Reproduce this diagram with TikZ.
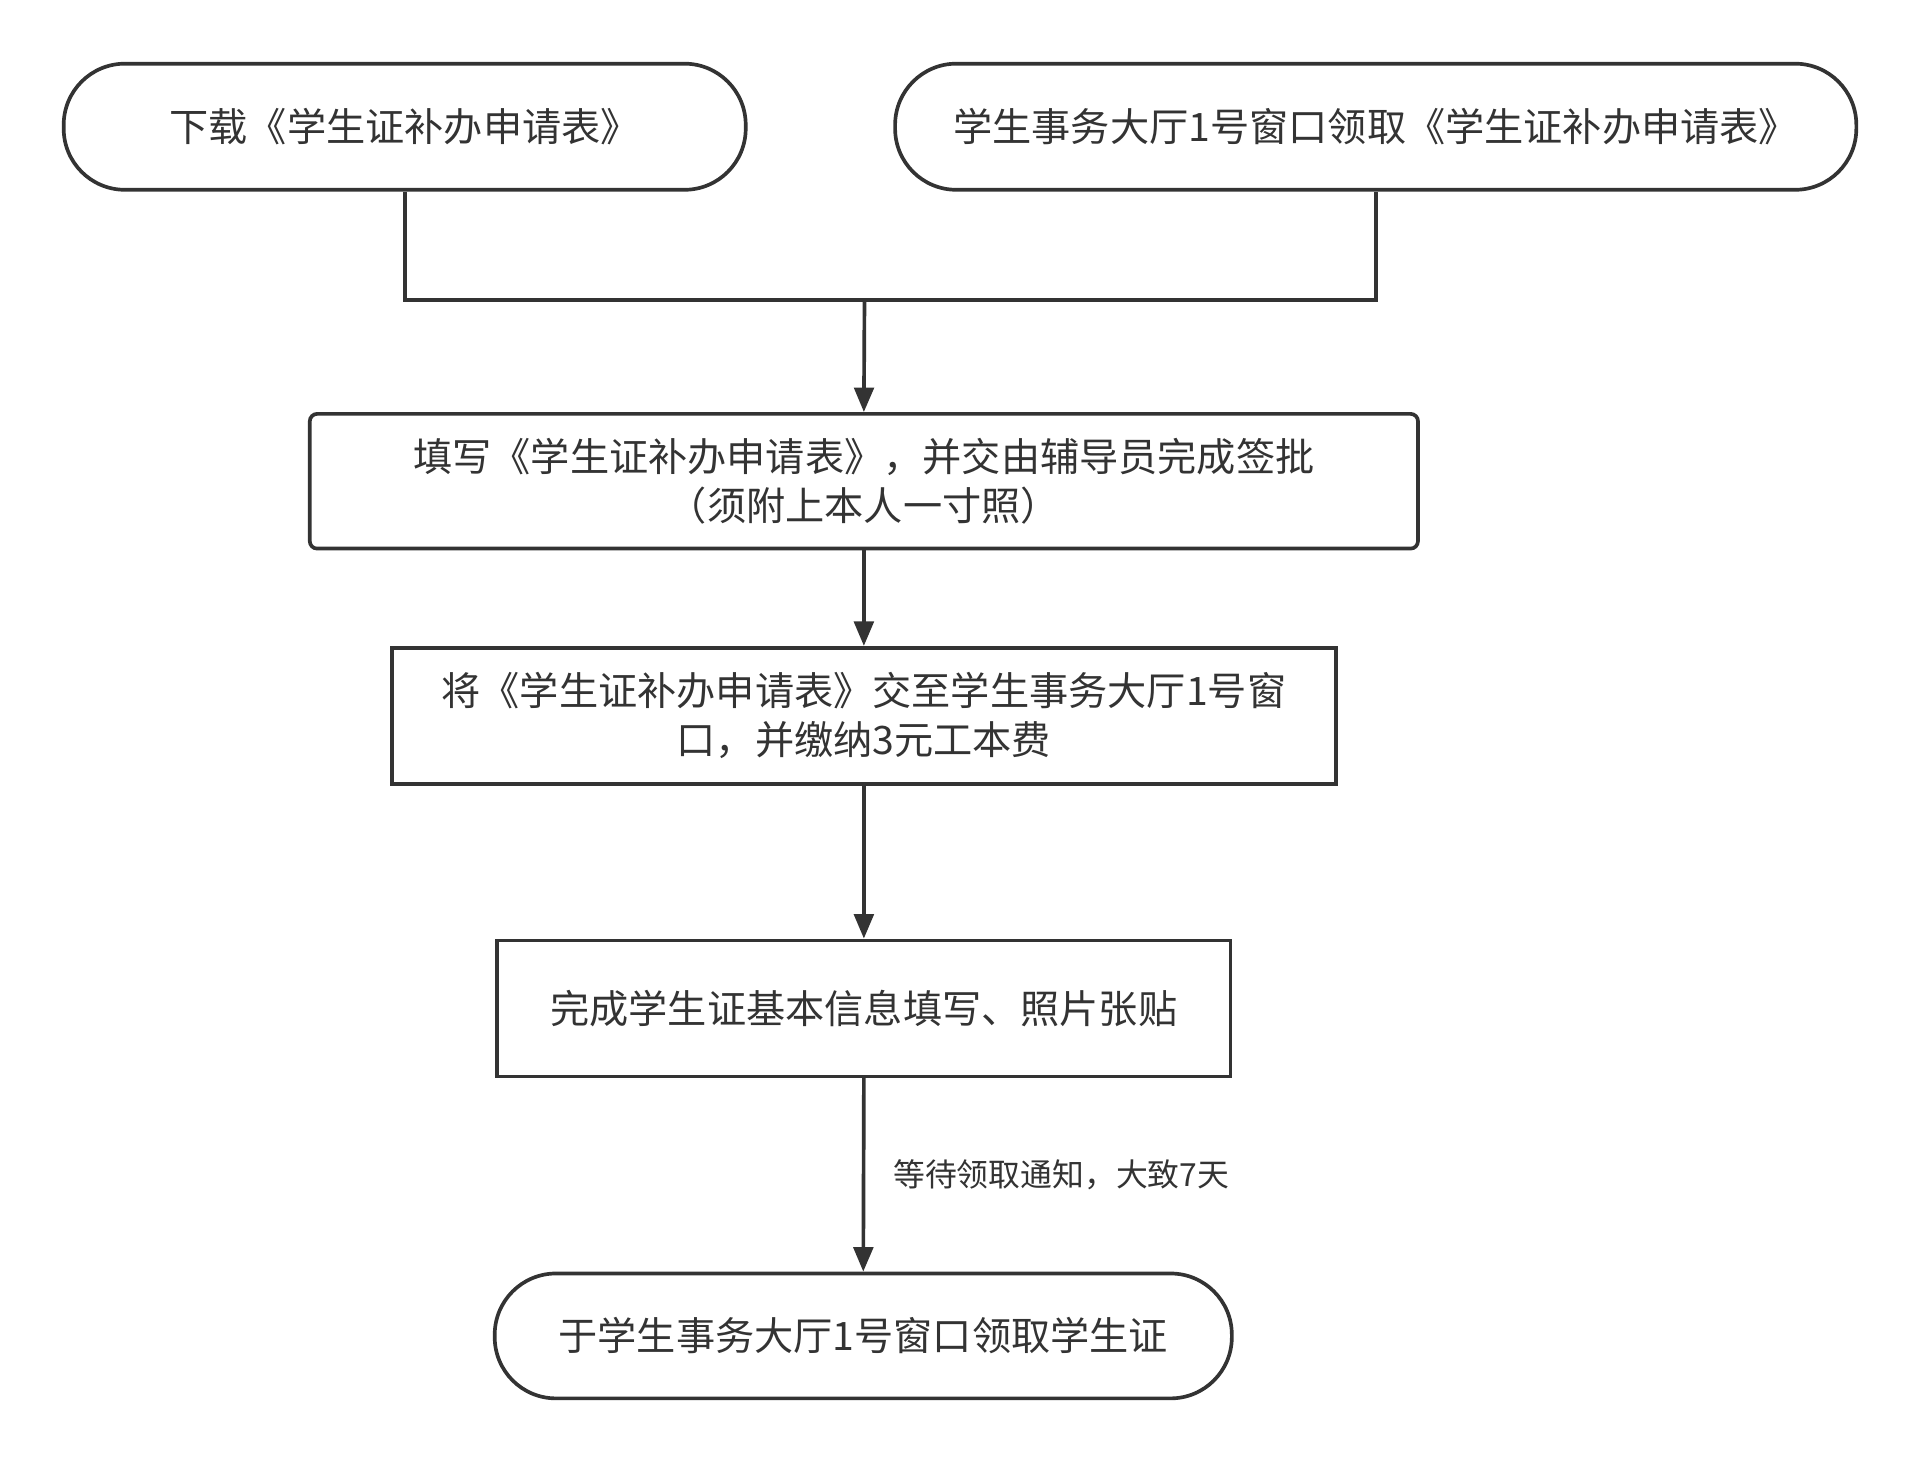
\documentclass[tikz,border=0pt]{standalone}
\usepackage{fontspec}
\setmainfont{Noto Sans CJK SC}
\usetikzlibrary{arrows.meta}
\definecolor{ln}{HTML}{333333}
\begin{document}
\begin{tikzpicture}[x=0.5pt,y=-0.5pt,
  box/.style={draw=ln,line width=1.5pt,text=ln,font=\fontsize{16pt}{20pt}\selectfont,align=center,inner sep=0pt},
  rbox/.style={box,rounded corners=25pt},
  sbox/.style={box,rounded corners=3pt},
  conn/.style={draw=ln,line width=1.5pt},
  arr/.style={conn,-{Triangle[length=10pt,width=8pt]}}]
\useasboundingbox (0,0) rectangle (1568,1194);
\node[rbox,minimum width=278.5pt,minimum height=51.5pt] (a) at (330.5,103.5) {下载《学生证补办申请表》};
\node[rbox,minimum width=392.5pt,minimum height=51.5pt] (b) at (1123.5,103.5) {学生事务大厅1号窗口领取《学生证补办申请表》};
\node[sbox,minimum width=452.5pt,minimum height=55pt] (c) at (705.5,393) {填写《学生证补办申请表》，并交由辅导员完成签批\\（须附上本人一寸照）};
\node[box,minimum width=385.5pt,minimum height=55.5pt] (d) at (705.5,584.5) {将《学生证补办申请表》交至学生事务大厅1号窗\\口，并缴纳3元工本费};
\node[box,minimum width=299.5pt,minimum height=55.5pt] (e) at (705.5,823.5) {完成学生证基本信息填写、照片张贴};
\node[rbox,minimum width=301pt,minimum height=51pt] (f) at (705,1091) {于学生事务大厅1号窗口领取学生证};
\coordinate (j) at (706,245);
\draw[conn] (a.south) -- (a.south |- j) -- (b.south |- j) -- (b.south);
\draw[arr] (j) -- (c.north);
\draw[arr] (c.south) -- (d.north);
\draw[arr] (d.south) -- (e.north);
\draw[arr] (e.south) -- node[right=8pt,text=ln,font=\fontsize{13pt}{16pt}\selectfont] (lbl) {等待领取通知，大致7天} (f.north);
\end{tikzpicture}
\end{document}
